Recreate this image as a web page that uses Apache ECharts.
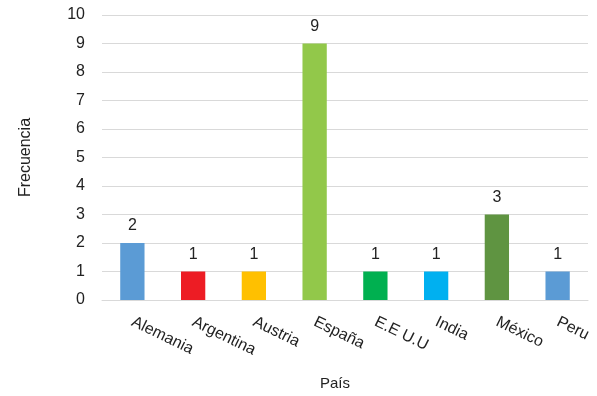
<!DOCTYPE html>
<html><head><meta charset="utf-8">
<script src="https://cdn.jsdelivr.net/npm/echarts@6/dist/echarts.min.js"></script>
<style>html,body{margin:0;padding:0;background:#fff}#c{width:597px;height:396px}</style>
</head><body><div id="c"></div>
<script>
const categories = ["Alemania","Argentina","Austria","España","E.E U.U","India","México","Peru"];
const values = [2,1,1,9,1,1,3,1];
const colors = ["#5B9BD5","#ED1C24","#FFC000","#92C84A","#00B050","#00B0F0","#5F9441","#5B9BD5"];
const yTicks = [0,1,2,3,4,5,6,7,8,9,10];
const font = "Liberation Sans";
const chart = echarts.init(document.getElementById('c'));
chart.setOption({
  animation:false,
  textStyle:{fontFamily:font},
  grid:{left:102,right:9,top:15,bottom:88,containLabel:false},
  xAxis:{type:'category',data:categories,
    axisLine:{lineStyle:{color:'#D9D9D9'}},axisTick:{show:false},
    axisLabel:{rotate:-26,interval:0,color:'#222',fontSize:16,fontFamily:font,margin:21,align:'left'},
    name:'País',nameLocation:'middle',nameGap:76,nameTextStyle:{color:'#222',fontSize:15,fontFamily:font,padding:[0,20,0,0]}},
  yAxis:{type:'value',min:yTicks[0],max:yTicks[yTicks.length-1],interval:1,
    axisLine:{show:false},axisTick:{show:false},
    splitLine:{lineStyle:{color:'#D9D9D9'}},
    axisLabel:{color:'#222',fontSize:16,fontFamily:font,margin:17},
    name:'Frecuencia',nameLocation:'middle',nameGap:68,nameTextStyle:{color:'#222',fontSize:16,fontFamily:font}},
  series:[{type:'bar',barWidth:'40%',
    data:values.map((v,i)=>({value:v,itemStyle:{color:colors[i]}})),
    label:{show:true,position:'top',distance:9,color:'#222',fontSize:16,fontFamily:font}}]
});
</script></body></html>
